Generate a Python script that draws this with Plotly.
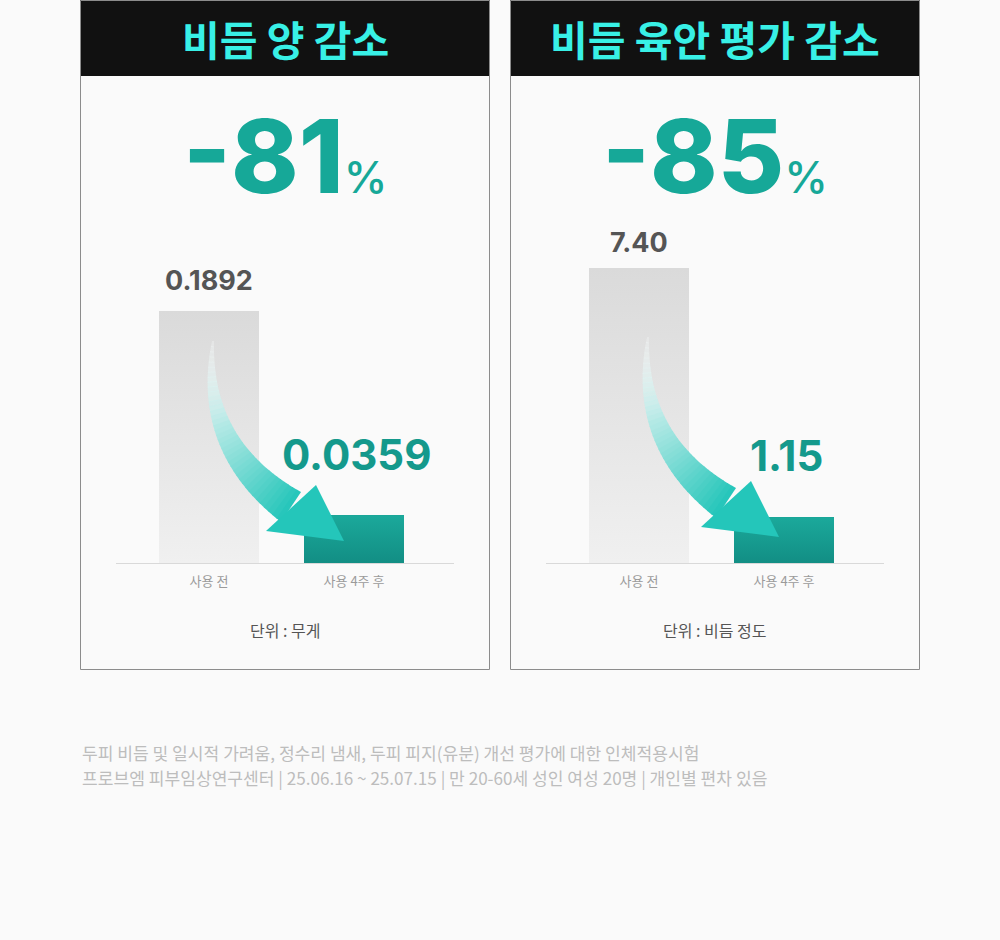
import plotly.graph_objects as go

# ---------------- data ----------------
categories = ["사용 전", "사용 4주 후"]
titles = ["비듬 양 감소", "비듬 육안 평가 감소"]
amount_values = [0.1892, 0.0359]          # 비듬 양 (무게)
visual_values = [7.40, 1.15]              # 비듬 육안 평가 (정도)
amount_labels = ["0.1892", "0.0359"]
visual_labels = ["7.40", "1.15"]
reductions = ["-81", "-85"]
units = ["단위 : 무게", "단위 : 비듬 정도"]
footnotes = [
    "두피 비듬 및 일시적 가려움, 정수리 냄새, 두피 피지(유분) 개선 평가에 대한 인체적용시험",
    "프로브엠 피부임상연구센터 | 25.06.16 ~ 25.07.15 | 만 20-60세 성인 여성 20명 | 개인별 편차 있음",
]

W, H = 1000, 940
BG = "#fafafa"
KR = "Noto Sans CJK KR"
NUM = "Inter"
TEAL = "#14998c"
BAR_GRADIENTS = [[[0, "#f0f0f0"], [1, "#dadada"]], [[0, "#128e84"], [1, "#1ba99b"]]]
BAR_COLORS = ["#e4e4e4", "#179d90"]


def X(px):
    return px / W


def Y(py):
    return 1 - py / H


fig = go.Figure()

panels = [
    dict(x0=80, values=amount_values, labels=amount_labels, ymax=0.1892 * 363 / 252,
         label_y=[280, 455]),
    dict(x0=510, values=visual_values, labels=visual_labels, ymax=7.40 * 363 / 295,
         label_y=[242, 455]),
]

shapes = []
annotations = []

for i, p in enumerate(panels):
    x0 = p["x0"]
    # panel frame and header
    shapes.append(dict(type="rect", xref="paper", yref="paper", x0=X(x0), x1=X(x0 + 410),
                       y0=Y(76), y1=Y(0), fillcolor="#111111", line=dict(width=0), layer="below"))
    shapes.append(dict(type="rect", xref="paper", yref="paper", x0=X(x0 + 0.5), x1=X(x0 + 409.5),
                       y0=Y(669.5), y1=Y(0.5), fillcolor="rgba(0,0,0,0)",
                       line=dict(color="#8c8c8c", width=1), layer="below"))
    cx = x0 + 205
    annotations.append(dict(xref="paper", yref="paper", x=X(cx), y=Y(38), text=f"<b>{titles[i]}</b>",
                            showarrow=False, xanchor="center", yanchor="middle",
                            font=dict(family=KR, size=41, color="#38f0e6")))
    annotations.append(dict(xref="paper", yref="paper", x=X(cx), y=Y(156),
                            text=f"{reductions[i]}<span style='font-size:44px;font-weight:500'>%</span>",
                            showarrow=False, xanchor="center", yanchor="middle",
                            font=dict(family=NUM, size=102, color="#16a898", weight=800)))
    annotations.append(dict(xref="paper", yref="paper", x=X(cx), y=Y(630), text=units[i],
                            showarrow=False, xanchor="center", yanchor="middle",
                            font=dict(family=KR, size=16, color="#555555")))

    # axes
    ax = "" if i == 0 else str(i + 1)
    xl, xr = x0 + 36, x0 + 374
    c0, c1 = x0 + 129, x0 + 274
    unit = (c1 - c0)
    bw = 100 / unit
    xrange = [-(c0 - xl) / unit, 1 + (xr - c1) / unit]
    fig.update_layout(**{
        f"xaxis{ax}": dict(domain=[X(xl), X(xr)], range=xrange, tickvals=[0, 1], ticktext=categories,
                           showgrid=False, zeroline=False, showline=True, linecolor="#d9d9d9",
                           linewidth=1, ticks="", fixedrange=True, ticklabelstandoff=6,
                           tickfont=dict(family=KR, size=13, color="#9a9a9a"),
                           anchor=f"y{ax}"),
        f"yaxis{ax}": dict(domain=[Y(563), Y(200)], range=[0, p["ymax"]], visible=False,
                           fixedrange=True, anchor=f"x{ax}"),
    })
    fig.add_trace(go.Bar(x=[0, 1], y=p["values"], width=bw,
                         marker=dict(color=BAR_COLORS, line=dict(width=0)),
                         xaxis=f"x{ax}", yaxis=f"y{ax}", hoverinfo="skip", showlegend=False))
    # vertical gradient overlay on each bar, same geometry as the bar
    for j in range(2):
        v = p["values"][j]
        fig.add_trace(go.Scatter(x=[j - bw / 2, j + bw / 2, j + bw / 2, j - bw / 2, j - bw / 2],
                                 y=[0, 0, v, v, 0], mode="lines", fill="toself",
                                 line=dict(width=0), fillcolor=BAR_COLORS[j],
                                 fillgradient=dict(type="vertical", colorscale=BAR_GRADIENTS[j]),
                                 xaxis=f"x{ax}", yaxis=f"y{ax}", hoverinfo="skip", showlegend=False))

    # value labels above bars
    for j in range(2):
        top_px = 563 - 363 * p["values"][j] / p["ymax"]
        big = j == 1
        annotations.append(dict(xref=f"x{ax}", yref=f"y{ax}", x=j + (0.02 if big else 0), y=p["values"][j],
                                yshift=top_px - p["label_y"][j], text=f"<b>{p['labels'][j]}</b>",
                                showarrow=False, xanchor="center", yanchor="middle",
                                font=dict(family=NUM, size=42 if big else 27,
                                          color=TEAL if big else "#555555")))

    # decorative curved arrow
    dx = 0 if i == 0 else 435
    dy = 0 if i == 0 else -4
    P0 = (213 + dx, 341 + dy)
    P2 = (291 + dx, 507 + dy)
    P1 = (P2[0] - 1.7 * 53, P2[1] - 1.7 * 35.5)

    def bez(t):
        return ((1 - t) ** 2 * P0[0] + 2 * (1 - t) * t * P1[0] + t * t * P2[0],
                (1 - t) ** 2 * P0[1] + 2 * (1 - t) * t * P1[1] + t * t * P2[1])

    def norm(t):
        tx = 2 * (1 - t) * (P1[0] - P0[0]) + 2 * t * (P2[0] - P1[0])
        ty = 2 * (1 - t) * (P1[1] - P0[1]) + 2 * t * (P2[1] - P1[1])
        L = (tx * tx + ty * ty) ** 0.5
        return (-ty / L, tx / L)

    def edge(t):
        c = bez(t)
        n = norm(t)
        w = (2 + 34 * t ** 0.95) / 2
        return (c[0] + n[0] * w, c[1] + n[1] * w), (c[0] - n[0] * w, c[1] - n[1] * w)

    N = 40
    for k in range(N):
        t0, t1 = k / N, (k + 1) / N
        a0, b0 = edge(t0)
        a1, b1 = edge(t1 + (0.004 if k < N - 1 else 0))
        tm = (t0 + t1) / 2
        m = tm ** 1.4
        r = int(246 + (36 - 246) * m)
        g = int(250 + (198 - 250) * m)
        b = int(250 + (186 - 250) * m)
        al = min(1.0, 0.3 + 1.6 * tm)
        path = (f"M {X(a0[0])},{Y(a0[1])} L {X(a1[0])},{Y(a1[1])} "
                f"L {X(b1[0])},{Y(b1[1])} L {X(b0[0])},{Y(b0[1])} Z")
        shapes.append(dict(type="path", xref="paper", yref="paper", path=path,
                           fillcolor=f"rgba({r},{g},{b},{al:.3f})", line=dict(width=0), layer="above"))
    tip = (344 + dx, 541 + dy)
    c1_ = (316 + dx, 485 + dy)
    c2_ = (266 + dx, 531 + dy)
    path = (f"M {X(tip[0])},{Y(tip[1])} L {X(c1_[0])},{Y(c1_[1])} L {X(c2_[0])},{Y(c2_[1])} Z")
    shapes.append(dict(type="path", xref="paper", yref="paper", path=path,
                       fillcolor="rgb(36,198,186)", line=dict(width=0), layer="above"))

# footnotes
for k, txt in enumerate(footnotes):
    annotations.append(dict(xref="paper", yref="paper", x=X(80), y=Y(752 + 25 * k), text=txt,
                            showarrow=False, xanchor="left", yanchor="middle",
                            font=dict(family=KR, size=17.1, color="#bdbdbd")))

fig.update_layout(width=W, height=H, margin=dict(l=0, r=0, t=0, b=0),
                  paper_bgcolor=BG, plot_bgcolor="rgba(0,0,0,0)",
                  shapes=shapes, annotations=annotations, showlegend=False, bargap=0)

fig.write_html("out.html", config={"displayModeBar": False})
